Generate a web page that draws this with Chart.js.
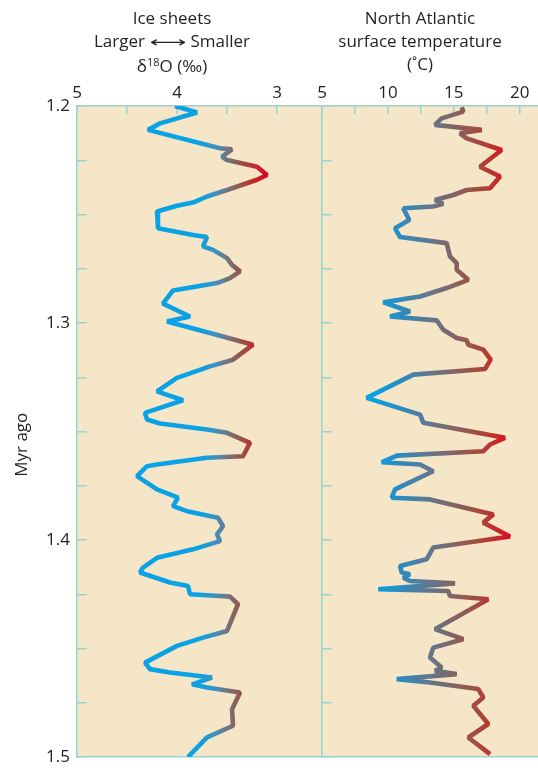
<!DOCTYPE html>
<html>
<head>
<meta charset="utf-8">
<script src="https://cdn.jsdelivr.net/npm/chart.js@4"></script>
<style>
  body { margin: 0; background: #fff; }
  #wrap { position: relative; width: 538px; height: 768px; overflow: hidden; }
  canvas { position: absolute; top: 0; }
  .head {
    position: absolute; top: 6px; width: 220px; text-align: center;
    font-family: "Open Sans", sans-serif; font-size: 17px; line-height: 23px; color: #231f20;
  }
  .head sup { font-size: 11px; vertical-align: 6px; line-height: 0; }
  .arr { font-family: "DejaVu Sans", sans-serif; display: inline-block; transform: scaleX(1.7); margin: 0 12px; font-size: 15px; }
</style>
</head>
<body>
<div id="wrap">
  <canvas id="iceChart" width="322" height="768" style="left:0"></canvas>
  <canvas id="sstChart" width="228" height="768" style="left:310px"></canvas>
  <div class="head" style="left:62px">Ice sheets<br>Larger<span class="arr">⟷</span>Smaller<br>δ<sup>18</sup>O (‰)</div>
  <div class="head" style="left:310px">North Atlantic<br>surface temperature<br>(˚C)</div>
</div>
<script>
// Myr ago / d18O (per mil), left panel
const iceAge = [1.200, 1.203, 1.208, 1.211, 1.2195, 1.220, 1.2233, 1.2249, 1.228, 1.2318,
  1.234, 1.2387, 1.2417, 1.2445, 1.246, 1.2486, 1.2563, 1.2594, 1.2604, 1.2647,
  1.2663, 1.2701, 1.2732, 1.2762, 1.2793, 1.2816, 1.285, 1.2911, 1.297, 1.2993,
  1.3046, 1.31, 1.3169, 1.32, 1.3253, 1.3315, 1.3356, 1.3414, 1.3445, 1.3463,
  1.3491, 1.3506, 1.3552, 1.3614, 1.3621, 1.3652, 1.366, 1.3706, 1.3767, 1.3805,
  1.3844, 1.3867, 1.3897, 1.3936, 1.3974, 1.4005, 1.4043, 1.4082, 1.4127, 1.415,
  1.4196, 1.4212, 1.425, 1.4258, 1.4261, 1.4296, 1.4419, 1.445, 1.4488, 1.4565,
  1.4595, 1.4611, 1.4634, 1.4665, 1.468, 1.4703, 1.478, 1.4856, 1.491, 1.5];
const iceO18 = [4.02, 3.80, 4.17, 4.29, 3.57, 3.45, 3.55, 3.50, 3.20, 3.10,
  3.20, 3.50, 3.70, 3.84, 4.00, 4.20, 4.19, 3.84, 3.70, 3.74,
  3.64, 3.50, 3.45, 3.37, 3.47, 3.60, 4.04, 4.14, 3.87, 4.10,
  3.67, 3.24, 3.44, 3.67, 4.00, 4.20, 3.94, 4.32, 4.30, 4.17,
  3.70, 3.50, 3.27, 3.34, 3.70, 4.20, 4.30, 4.40, 4.20, 3.99,
  4.04, 3.90, 3.59, 3.54, 3.60, 3.57, 3.84, 4.20, 4.34, 4.37,
  4.07, 3.89, 3.87, 3.57, 3.47, 3.39, 3.50, 3.74, 4.00, 4.32,
  4.27, 4.07, 3.65, 3.85, 3.70, 3.37, 3.45, 3.44, 3.70, 3.89];

// Myr ago / North Atlantic SST (deg C), right panel
const sstAge = [1.2006, 1.2026, 1.2057, 1.2087, 1.211, 1.2126, 1.2149, 1.2203, 1.228, 1.2325,
  1.2379, 1.2387, 1.241, 1.2433, 1.2451, 1.2463, 1.2471, 1.2525, 1.2563, 1.2604,
  1.2632, 1.2693, 1.2724, 1.2755, 1.2801, 1.2839, 1.2878, 1.2905, 1.2947, 1.297,
  1.2988, 1.3031, 1.3069, 1.308, 1.31, 1.3123, 1.3169, 1.3212, 1.3238, 1.3345,
  1.3422, 1.346, 1.3491, 1.3529, 1.356, 1.3591, 1.3611, 1.3642, 1.3652, 1.3683,
  1.3767, 1.3805, 1.3813, 1.3882, 1.392, 1.3984, 1.4035, 1.4089, 1.412, 1.415,
  1.4158, 1.4174, 1.4189, 1.42, 1.4227, 1.4235, 1.4258, 1.4273, 1.4411, 1.4457,
  1.4496, 1.4542, 1.4588, 1.4603, 1.4618, 1.4641, 1.4657, 1.4687, 1.4726, 1.4764,
  1.4848, 1.491, 1.4987];
const sstTemp = [15.60, 15.72, 14.08, 13.57, 17.12, 15.47, 15.98, 18.63, 16.99, 18.51,
  17.75, 15.98, 14.96, 13.57, 14.20, 13.44, 11.17, 11.62, 10.54, 10.92,
  14.46, 14.71, 15.22, 15.22, 16.10, 14.46, 12.44, 9.65, 11.68, 10.16,
  13.70, 14.20, 15.22, 15.98, 16.10, 17.24, 17.80, 17.37, 11.93, 8.39,
  12.44, 12.69, 15.47, 18.88, 17.75, 17.24, 10.67, 9.53, 12.44, 13.44,
  10.54, 10.29, 13.19, 18.00, 17.24, 19.26, 13.44, 12.94, 10.92, 11.05,
  11.68, 11.17, 11.68, 15.09, 9.27, 14.58, 14.71, 17.62, 13.57, 15.72,
  13.44, 13.19, 14.08, 13.57, 15.22, 10.67, 13.19, 16.86, 17.24, 16.48,
  17.62, 16.10, 17.75];

// tick positions
const ageTicks = [1.2, 1.225, 1.25, 1.275, 1.3, 1.325, 1.35, 1.375, 1.4, 1.425, 1.45, 1.475, 1.5];
const o18Ticks = [5, 4.5, 4, 3.5, 3];
const sstTicks = [5, 7.5, 10, 12.5, 15, 17.5, 20];

// colour ramps (value -> colour)
const o18Ramp = [[3.78, 'rgb(10,162,228)'], [3.62, 'rgb(60,145,195)'], [3.5, 'rgb(112,118,128)'],
  [3.36, 'rgb(152,82,72)'], [3.22, 'rgb(192,42,42)'], [3.1, 'rgb(224,6,35)']];
const sstRamp = [[9, 'rgb(10,160,228)'], [11, 'rgb(45,138,190)'], [13, 'rgb(95,120,145)'],
  [14.5, 'rgb(120,106,110)'], [16.5, 'rgb(158,80,70)'], [18, 'rgb(192,48,44)'], [19.3, 'rgb(224,8,35)']];

const AXIS = 'rgb(155,210,210)';
const FILL = 'rgb(244,230,199)';

Chart.defaults.font.family = '"Open Sans", sans-serif';
Chart.defaults.font.size = 17;
Chart.defaults.color = '#231f20';

const areaFill = {
  id: 'areaFill',
  beforeDraw(chart) {
    const { ctx, chartArea: a } = chart;
    ctx.save();
    ctx.fillStyle = FILL;
    ctx.fillRect(a.left, a.top, a.right - a.left, a.bottom - a.top);
    ctx.restore();
  },
};

function rampGradient(chart, ramp) {
  const scale = chart.scales.x;
  if (!scale || !chart.chartArea) return ramp[0][1];
  const p0 = scale.getPixelForValue(ramp[0][0]);
  const p1 = scale.getPixelForValue(ramp[ramp.length - 1][0]);
  const g = chart.ctx.createLinearGradient(p0, 0, p1, 0);
  ramp.forEach(([v, c]) => {
    g.addColorStop((scale.getPixelForValue(v) - p0) / (p1 - p0), c);
  });
  return g;
}

function setTicks(values) {
  return (scale) => { scale.ticks = values.map((v) => ({ value: v })); };
}

// fixed axis box size, and no extra room for overhanging labels
function fixSize(prop, size) {
  return (s) => {
    s[prop] = size;
    s.paddingLeft = 0; s.paddingRight = 0; s.paddingTop = 0; s.paddingBottom = 0;
  };
}

function makeChart(id, ages, values, ramp, xMin, xMax, xTicks, xReverse, xLabel, showAge) {
  return new Chart(document.getElementById(id), {
    type: 'line',
    data: {
      datasets: [{
        data: ages.map((a, i) => ({ x: values[i], y: a })),
        xAxisID: 'x',
        yAxisID: 'y',
        borderColor: (ctx) => rampGradient(ctx.chart, ramp),
        borderWidth: 4.6,
        borderJoinStyle: 'bevel',
        pointRadius: 0,
        tension: 0,
        clip: 0,
      }],
    },
    options: {
      responsive: false,
      animation: false,
      layout: { padding: 0, autoPadding: false },
      plugins: { legend: { display: false }, tooltip: { enabled: false } },
      scales: {
        x: {
          type: 'linear',
          position: 'top',
          reverse: xReverse,
          min: xMin,
          max: xMax,
          afterBuildTicks: setTicks(xTicks),
          afterFit: fixSize('height', 106),
          ticks: { autoSkip: false, maxRotation: 0, padding: 11, callback: xLabel },
          grid: { drawOnChartArea: false, tickLength: -8, color: AXIS, lineWidth: 1.5 },
          border: { color: AXIS, width: 1.5 },
        },
        xb: {
          type: 'linear',
          position: 'bottom',
          min: xMin,
          max: xMax,
          afterFit: fixSize('height', 11),
          ticks: { display: false },
          grid: { display: false },
          border: { color: AXIS, width: 1.5 },
        },
        y: {
          type: 'linear',
          position: 'left',
          reverse: true,
          min: 1.2,
          max: 1.5,
          afterBuildTicks: setTicks(ageTicks),
          afterFit: fixSize('width', showAge ? 77 : 12),
          ticks: {
            display: showAge,
            autoSkip: false,
            padding: 17,
            callback: (v) => (Math.abs(v * 10 - Math.round(v * 10)) < 1e-6 ? v.toFixed(1) : ''),
          },
          title: {
            display: showAge,
            text: 'Myr ago      ',
            padding: { top: 12, bottom: 0 },
          },
          grid: { drawOnChartArea: false, tickLength: -10, color: AXIS, lineWidth: 1.5 },
          border: { color: AXIS, width: 1.5 },
        },
      },
    },
    plugins: [areaFill],
  });
}

makeChart('iceChart', iceAge, iceO18, o18Ramp, 2.55, 5, o18Ticks, true,
  (v) => (Number.isInteger(v) ? String(v) : ''), true);
makeChart('sstChart', sstAge, sstTemp, sstRamp, 5, 21.39, sstTicks, false,
  (v) => (v % 5 === 0 ? String(v) : ''), false);
</script>
</body>
</html>
